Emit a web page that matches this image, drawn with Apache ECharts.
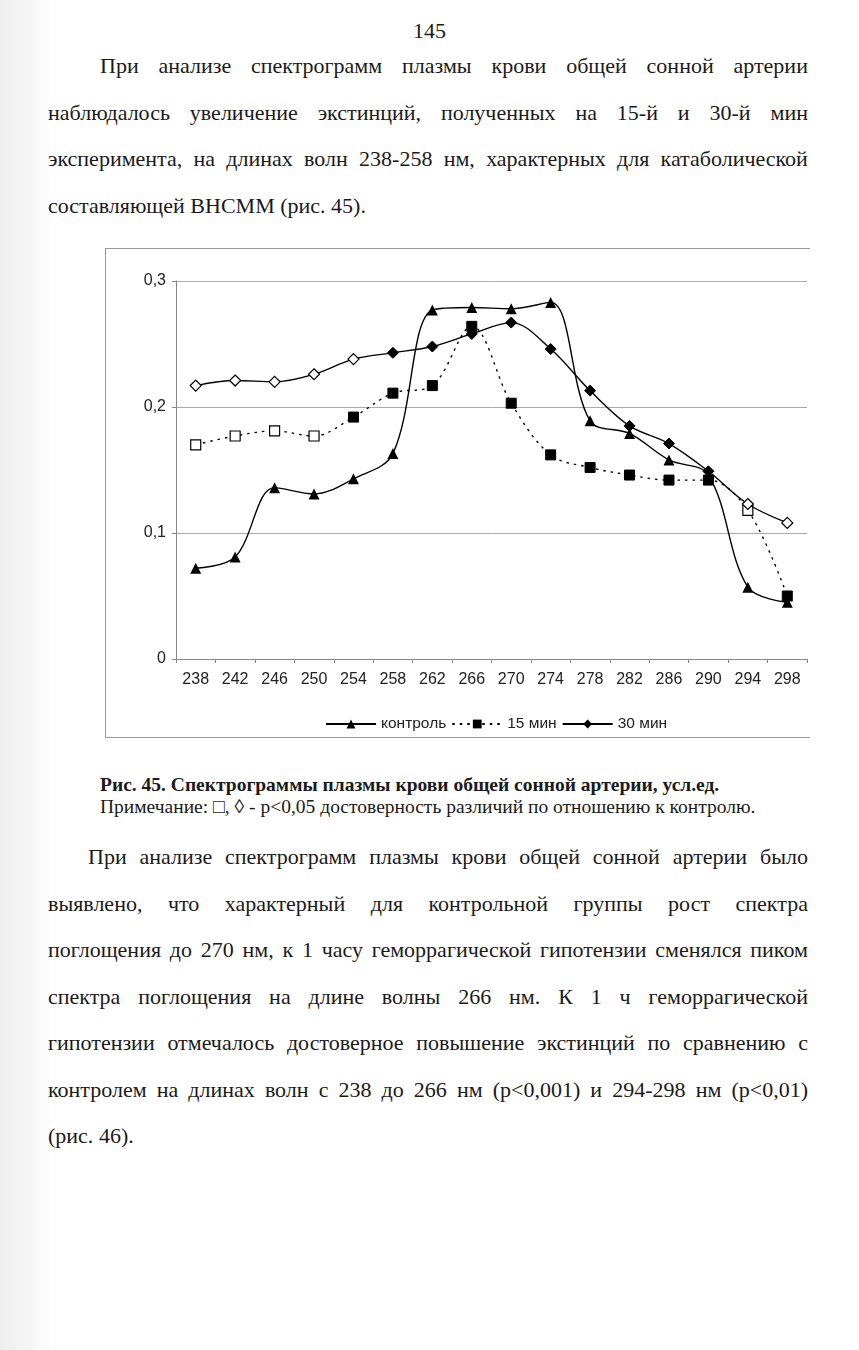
<!DOCTYPE html>
<html><head><meta charset="utf-8">
<script src="https://cdn.jsdelivr.net/npm/echarts@6/dist/echarts.min.js"></script>
<style>
html,body{margin:0;padding:0;}
body{width:859px;height:1350px;position:relative;background:#fff;overflow:hidden;
 background:linear-gradient(to right,#eeeeee 0px,#f6f6f6 30px,#fcfcfc 46px,#fff 52px);}
.ln{position:absolute;font-family:"Liberation Serif","Times New Roman",serif;font-size:22px;color:#1a1a1a;
 display:flex;white-space:nowrap;height:30px;line-height:30px;}
.just{justify-content:space-between;}
.left{justify-content:flex-start;}
.left span{margin-right:0.25em;}
#pg{position:absolute;left:0;width:859px;text-align:center;top:18px;font-family:"Liberation Serif",serif;font-size:22px;color:#1a1a1a;}
#cap1{position:absolute;left:100px;top:774px;font-family:"Liberation Serif",serif;font-weight:bold;font-size:19.5px;line-height:22px;color:#1a1a1a;white-space:nowrap;}
#cap2{position:absolute;left:100px;top:796px;font-family:"Liberation Serif",serif;font-size:19.5px;line-height:22px;color:#1a1a1a;white-space:nowrap;}
#chartbox{position:absolute;left:105px;top:248px;width:705px;height:490px;border-top:1px solid #999;border-left:1px solid #999;border-bottom:1px solid #999;box-sizing:border-box;}
#chart{position:absolute;left:0;top:0;width:705px;height:490px;}
</style></head>
<body>
<div id="pg">145</div>
<div id="text"></div>
<div id="chartbox"><div id="chart"></div></div>
<div id="cap1">Рис. 45. Спектрограммы плазмы крови общей сонной артерии, усл.ед.</div>
<div id="cap2">Примечание: □, ◊ - р&lt;0,05 достоверность различий по отношению к контролю.</div>
<script>
// ---- data ----
const wavelengths = ['238','242','246','250','254','258','262','266','270','274','278','282','286','290','294','298'];
const control = [0.072,0.081,0.136,0.131,0.143,0.163,0.277,0.279,0.278,0.283,0.189,0.179,0.158,0.146,0.057,0.045];
const min15   = [0.170,0.177,0.181,0.177,0.192,0.211,0.217,0.264,0.203,0.162,0.152,0.146,0.142,0.142,0.118,0.050];
const min30   = [0.217,0.221,0.220,0.226,0.238,0.243,0.248,0.258,0.267,0.246,0.213,0.185,0.171,0.149,0.123,0.108];
const sig15 = [0,1,2,3,14];        // hollow markers (p<0.05)
const sig30 = [0,1,2,3,4,14,15];
const seriesNames = ['контроль','15 мин','30 мин'];

// ---- page text ----
const para1 = [
 ['При анализе спектрограмм плазмы крови общей сонной артерии', 100, 66, true],
 ['наблюдалось увеличение экстинций, полученных на 15-й и 30-й мин', 48, 113, true],
 ['эксперимента, на длинах волн 238-258 нм, характерных для катаболической', 48, 159, true],
 ['составляющей ВНСММ (рис. 45).', 48, 206, false]
];
const para2 = [
 ['При анализе спектрограмм плазмы крови общей сонной артерии было', 88, 857, true],
 ['выявлено, что характерный для контрольной группы рост спектра', 48, 904, true],
 ['поглощения до 270 нм, к 1 часу геморрагической гипотензии сменялся пиком', 48, 950, true],
 ['спектра поглощения на длине волны 266 нм. К 1 ч геморрагической', 48, 997, true],
 ['гипотензии отмечалось достоверное повышение экстинций по сравнению с', 48, 1043, true],
 ['контролем на длинах волн с 238 до 266 нм (р<0,001) и 294-298 нм (р<0,01)', 48, 1090, true],
 ['(рис. 46).', 48, 1136, false]
];
const tc = document.getElementById('text');
[...para1, ...para2].forEach(([t,x,y,j])=>{
  const d=document.createElement('div');
  d.className='ln '+(j?'just':'left');
  d.style.left=x+'px'; d.style.top=(y-15)+'px';
  if(j) d.style.width=(808-x)+'px';
  t.split(' ').forEach(w=>{const s=document.createElement('span');s.textContent=w;d.appendChild(s);});
  tc.appendChild(d);
});

// ---- chart ----
const chart = echarts.init(document.getElementById('chart'));
function pts(arr, sig){
  return arr.map((v,i)=> sig && sig.includes(i)
    ? {value:v, itemStyle:{color:'#fff', borderColor:'#000', borderWidth:1.2}}
    : {value:v});
}
const fnt = 'Liberation Sans';
chart.setOption({
  animation:false,
  backgroundColor:'transparent',
  grid:{left:70,right:4,top:32,bottom:80},
  legend:{
    left:214, top:462, itemWidth:50, itemHeight:11, itemGap:5,
    textStyle:{fontFamily:fnt,fontSize:15.5,color:'#222'},
    data:seriesNames
  },
  xAxis:{
    type:'category', data:wavelengths, boundaryGap:true,
    axisLine:{lineStyle:{color:'#888',width:1}},
    axisTick:{show:true,length:4,lineStyle:{color:'#888'},alignWithLabel:false},
    axisLabel:{fontFamily:fnt,fontSize:16,color:'#222',margin:13}
  },
  yAxis:{
    type:'value', min:0, max:0.3, interval:0.1,
    axisLine:{show:true,lineStyle:{color:'#888'}},
    axisTick:{show:true,length:4,lineStyle:{color:'#888'}},
    splitLine:{show:true,lineStyle:{color:'#aaa',width:1}},
    axisLabel:{fontFamily:fnt,fontSize:16,color:'#222',margin:10,
      formatter:v=>String(+v.toFixed(1)).replace('.',',')}
  },
  series:[
    {name:seriesNames[0],type:'line',smooth:0.35,data:pts(control),
     symbol:'triangle',symbolSize:11,lineStyle:{color:'#000',width:1.4},itemStyle:{color:'#000'},z:3},
    {name:seriesNames[1],type:'line',smooth:0.35,data:pts(min15,sig15),
     symbol:'rect',symbolSize:10,lineStyle:{color:'#000',width:1.4,type:[2.5,5]},itemStyle:{color:'#000',borderColor:'#000'},z:4},
    {name:seriesNames[2],type:'line',smooth:0.35,data:pts(min30,sig30),
     symbol:'diamond',symbolSize:11,lineStyle:{color:'#000',width:1.4},itemStyle:{color:'#000',borderColor:'#000'},z:5}
  ]
});
</script>
</body></html>
